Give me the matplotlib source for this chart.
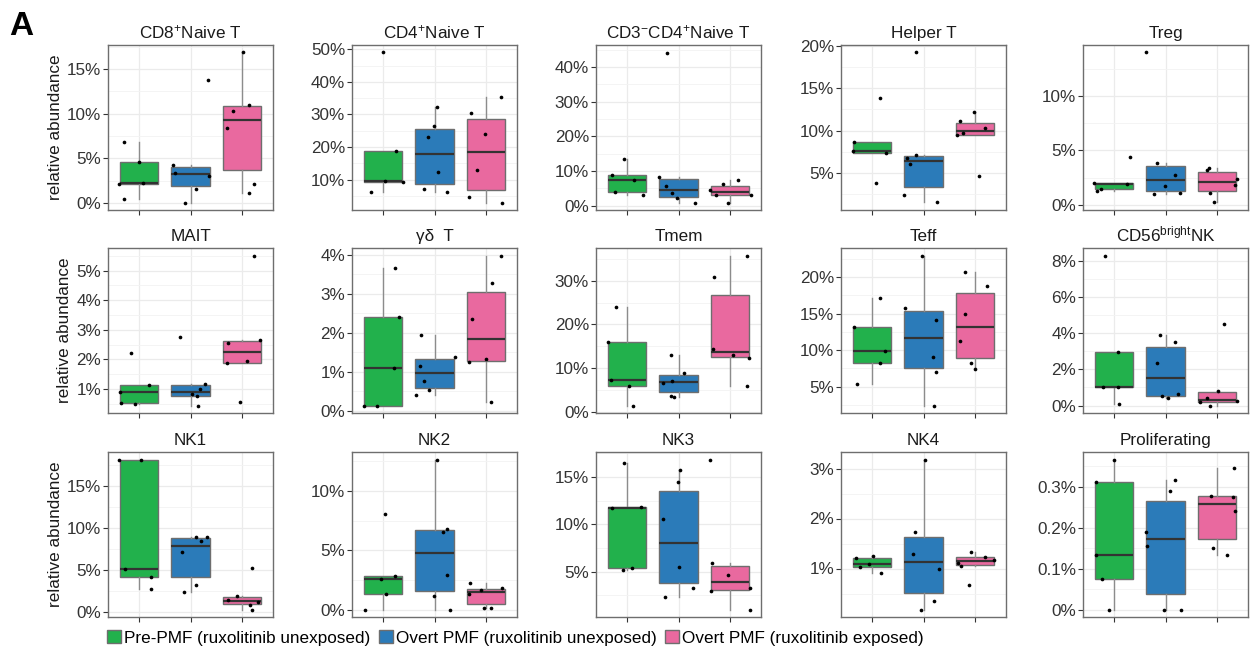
import numpy as np
import matplotlib
matplotlib.use('Agg')
import matplotlib.pyplot as plt
from matplotlib.patches import Patch
from matplotlib.ticker import MultipleLocator, AutoMinorLocator, FuncFormatter

plt.rcParams['font.family'] = ['Liberation Sans', 'DejaVu Sans']
plt.rcParams['mathtext.fontset'] = 'custom'
plt.rcParams['mathtext.rm'] = 'Liberation Sans'
plt.rcParams['mathtext.it'] = 'Liberation Sans:italic'
plt.rcParams['mathtext.bf'] = 'Liberation Sans:bold'

# relative abundance (%) per sample, groups: pre-PMF, overt PMF unexposed, overt PMF exposed
group_names = ['Pre-PMF (ruxolitinib unexposed)',
               'Overt PMF (ruxolitinib unexposed)',
               'Overt PMF (ruxolitinib exposed)']
group_colors = ['#22B14C', '#2B7BB9', '#E9699F']

titles = ['CD8$^{+}$Naive T', 'CD4$^{+}$Naive T', 'CD3$^{-}$CD4$^{+}$Naive T', 'Helper T', 'Treg',
          'MAIT', 'γδ  T', 'Tmem', 'Teff', 'CD56$^{\\mathrm{bright}}$NK',
          'NK1', 'NK2', 'NK3', 'NK4', 'Proliferating']

cd8_naive = [[6.85, 4.64, 2.2, 2.17, 0.49],
             [13.8, 4.27, 3.37, 3.07, 1.57, 0.07],
             [16.85, 11.0, 10.26, 8.43, 2.13, 1.09]]
cd4_naive = [[49.0, 18.7, 9.7, 9.3, 6.3],
             [32.4, 26.4, 23.2, 12.5, 7.2, 6.1],
             [35.2, 30.3, 24.0, 12.9, 4.7, 3.0]]
cd3n_cd4_naive = [[13.5, 8.8, 7.4, 3.8, 3.0],
                  [44.2, 8.2, 5.6, 3.6, 2.2, 0.9],
                  [7.3, 6.1, 4.6, 3.2, 3.0, 0.9]]
helper_t = [[13.9, 8.66, 7.64, 7.36, 3.78],
            [19.2, 7.17, 6.77, 6.06, 2.4, 1.54],
            [12.17, 11.1, 10.3, 9.72, 9.45, 4.65]]
treg = [[4.43, 1.97, 1.9, 1.5, 1.26],
        [14.0, 3.85, 2.74, 1.78, 1.1, 0.98],
        [3.35, 3.17, 2.4, 1.85, 1.05, 0.22]]
mait = [[2.21, 1.14, 0.91, 0.53, 0.49],
        [2.76, 1.17, 1.0, 0.82, 0.75, 0.44],
        [5.51, 2.65, 2.54, 1.93, 1.86, 0.56]]
gd_t = [[3.66, 2.4, 1.11, 0.14, 0.14],
        [1.95, 1.38, 1.16, 0.77, 0.54, 0.42],
        [3.98, 3.28, 2.36, 1.32, 1.26, 0.22]]
tmem = [[24.0, 16.0, 7.2, 6.0, 1.45],
        [13.05, 9.0, 6.95, 6.56, 3.74, 3.44],
        [35.8, 30.8, 14.35, 13.05, 12.3, 5.95]]
teff = [[17.1, 13.17, 9.83, 8.23, 5.35],
        [22.95, 15.7, 14.13, 9.1, 7.0, 2.42],
        [20.7, 18.75, 15.0, 11.2, 8.23, 7.45]]
cd56_bright = [[8.3, 2.95, 1.0, 1.0, 0.06],
               [3.89, 3.5, 2.36, 0.63, 0.52, 0.39],
               [4.52, 0.83, 0.41, 0.24, 0.17, 0.0]]
nk1 = [[18.2, 18.1, 5.04, 4.08, 2.72],
       [8.92, 8.92, 8.44, 7.16, 3.2, 2.32],
       [5.24, 1.88, 1.32, 1.12, 0.8, 0.24]]
nk2 = [[8.06, 2.84, 2.61, 1.35, 0.03],
       [12.64, 6.8, 6.57, 2.95, 1.15, 0.03],
       [2.22, 1.8, 1.66, 1.35, 0.17, 0.17]]
nk3 = [[16.44, 11.83, 11.76, 5.39, 5.18],
       [15.77, 14.47, 10.6, 5.53, 3.24, 2.36],
       [16.83, 5.92, 4.61, 3.24, 2.99, 1.02]]
nk4 = [[1.26, 1.22, 1.1, 1.03, 0.91],
       [3.18, 1.74, 1.29, 0.99, 0.36, 0.18],
       [1.34, 1.24, 1.17, 1.12, 1.05, 0.67]]
proliferating = [[0.366, 0.312, 0.134, 0.075, 0.0],
                 [0.316, 0.289, 0.189, 0.154, 0.0, 0.0],
                 [0.346, 0.278, 0.275, 0.241, 0.15, 0.134]]

panel_data = [cd8_naive, cd4_naive, cd3n_cd4_naive, helper_t, treg,
              mait, gd_t, tmem, teff, cd56_bright,
              nk1, nk2, nk3, nk4, proliferating]
tick_steps = [5, 10, 10, 5, 5, 1, 1, 10, 5, 2, 5, 5, 5, 1, 0.1]

FIG_W, FIG_H = 1253, 655
FS = 12.3
col_left = [108, 352, 596, 841, 1083]
row_top = [45, 248, 452]
panel_w, panel_h = 165, 165

rng = np.random.default_rng(11)


def pct(v, pos):
    return '{:g}%'.format(round(v, 6))


def draw_panel(ax, title, groups, step):
    bp = ax.boxplot(groups, positions=[1, 2, 3], widths=0.75, patch_artist=True,
                    showfliers=False, showcaps=False, whis=1.5,
                    boxprops=dict(edgecolor='#6E6E6E', linewidth=1.0),
                    medianprops=dict(color='#333333', linewidth=1.6),
                    whiskerprops=dict(color='#8C8C8C', linewidth=1.0))
    for patch, c in zip(bp['boxes'], group_colors):
        patch.set_facecolor(c)
    for i, vals in enumerate(groups):
        x = i + 1 + rng.uniform(-0.4, 0.4, len(vals))
        ax.scatter(x, vals, s=7, color='black', linewidths=0, zorder=3)

    allv = np.concatenate([np.asarray(g, float) for g in groups])
    lo, hi = allv.min(), allv.max()
    pad = 0.05 * (hi - lo)
    ax.set_ylim(lo - pad, hi + pad)
    ax.set_xlim(0.4, 3.6)
    ax.set_xticks([1, 2, 3])
    ax.set_xticklabels([])
    ax.yaxis.set_major_locator(MultipleLocator(step))
    ax.yaxis.set_minor_locator(AutoMinorLocator(2))
    ax.yaxis.set_major_formatter(FuncFormatter(pct))

    ax.set_axisbelow(True)
    ax.grid(True, which='major', color='#EBEBEB', linewidth=0.9)
    ax.grid(True, which='minor', axis='y', color='#F3F3F3', linewidth=0.6)
    for s in ax.spines.values():
        s.set_color('#6E6E6E')
        s.set_linewidth(1.0)
    ax.tick_params(axis='both', which='major', length=3.5, width=0.8, color='#333333',
                   labelsize=FS, labelcolor='#333333', pad=1.5)
    ax.tick_params(axis='y', which='minor', length=0)
    ax.set_title(title, fontsize=FS, color='#1A1A1A', pad=5)


fig = plt.figure(figsize=(FIG_W / 100, FIG_H / 100), dpi=100)

for k, (title, groups, step) in enumerate(zip(titles, panel_data, tick_steps)):
    r, c = divmod(k, 5)
    ax = fig.add_axes([col_left[c] / FIG_W, 1 - (row_top[r] + panel_h) / FIG_H,
                       panel_w / FIG_W, panel_h / FIG_H])
    draw_panel(ax, title, groups, step)
    if c == 0:
        ax.set_ylabel('relative abundance', fontsize=FS, color='#1A1A1A', labelpad=3)

fig.text(9 / FIG_W, 1 - 35 / FIG_H, 'A', fontsize=24, fontweight='bold', va='baseline')

handles = [Patch(facecolor=c, edgecolor='#6E6E6E', linewidth=1.0) for c in group_colors]
fig.legend(handles, group_names, loc='center left',
           bbox_to_anchor=(107 / FIG_W, 1 - 638 / FIG_H), ncol=3, frameon=False,
           fontsize=FS, handlelength=0.8, handleheight=0.8, handletextpad=0.2,
           columnspacing=0.5, borderpad=0, borderaxespad=0)

fig.savefig('out.png', dpi=100)
